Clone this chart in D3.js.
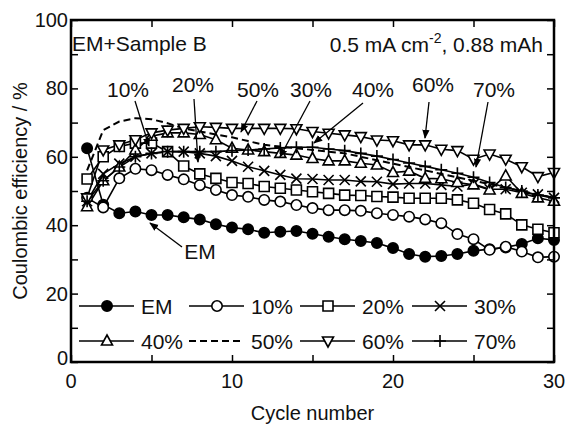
<!DOCTYPE html>
<html>
<head>
<meta charset="utf-8">
<script src="https://cdn.jsdelivr.net/npm/d3@7"></script>
<style>
  body { margin: 0; background: #fff; }
  svg text { font-family: "Liberation Sans", Arial, sans-serif; fill: #111; }
</style>
</head>
<body>
<div id="chart"></div>
<script>
var cycles = d3.range(1, 31);
var em   = [62.5, 46, 43.5, 44, 43, 43, 42.3, 41.7, 40.3, 39.3, 38.8, 37.8, 38.1, 38.3, 37.5, 36.6, 35.9, 35.4, 34.8, 33.3, 31.6, 30.8, 31, 31.6, 32.5, 33, 33.5, 34.5, 36.2, 35.7];
var p10  = [48, 45.2, 53.7, 56.5, 56.1, 54.7, 53.4, 51.7, 50.3, 48.8, 48.3, 47.4, 46.9, 45.9, 45.0, 44.4, 44.4, 44.2, 43.5, 43.0, 42.5, 41.7, 40.6, 37.4, 35.9, 32.8, 33.7, 32.3, 30.6, 30.8];
var p20  = [53.5, 60, 63, 64, 64, 61.5, 57.3, 55, 53.7, 52.5, 52.2, 51.3, 50.8, 50.3, 49.8, 49.3, 48.8, 48.7, 48.4, 48.2, 47.9, 47.9, 47.9, 47.4, 46.4, 44.6, 43.3, 40.1, 38.8, 37.8];
var p30  = [47, 55, 58, 60, 61, 61.5, 61.5, 61, 60.2, 58.8, 57.1, 55.9, 54.7, 53.6, 53.5, 53.2, 53.2, 52.8, 52.7, 52.0, 52.2, 52.2, 51.8, 51.3, 52.0, 50.5, 50.5, 49.5, 49, 48];
var p40  = [45.4, 53, 57, 62, 66, 67, 67, 66.5, 65, 62.5, 62, 61.5, 61, 60.5, 59.5, 58.8, 58.8, 58.1, 57.6, 55.4, 55.8, 53.7, 53.6, 52.5, 51.8, 50.3, 54.4, 49.3, 48, 47];
var p50  = [56, 67.8, 70.3, 71.3, 71, 69.8, 68.3, 67.4, 66.5, 65.7, 64.6, 63.5, 63, 62.5, 62, 61.5, 61, 60, 59, 58, 57, 56, 55, 54, 53, 52, 51, 50, 49, 48];
var p60  = [48, 62, 63.5, 65, 67, 67.8, 68.3, 68.8, 68.6, 68.3, 68.3, 68.3, 68.3, 68.2, 67.4, 66.9, 66.4, 65.9, 64.9, 64.7, 63.5, 63.5, 62.2, 61.8, 59.3, 60.8, 59.3, 57.1, 54.2, 55.4];
var p70  = [47, 53, 57, 60, 61, 61.5, 61.5, 61.5, 61.5, 61.8, 62, 62.3, 62.6, 62.8, 62.8, 62.3, 61.8, 61, 60.2, 59.2, 58.2, 57.2, 56.2, 55.2, 54, 52.5, 51, 50, 48.8, 48];

var seriesNames = ["EM", "10%", "20%", "30%", "40%", "50%", "60%", "70%"];
var seriesValues = [em, p10, p20, p30, p40, p50, p60, p70];
var seriesMarks = ["fcircle", "circle", "square", "x", "triangle", "none", "dtriangle", "plus"];

var xTicks = [0, 10, 20, 30];
var yTicks = [0, 20, 40, 60, 80, 100];

var W = 574, H = 431;
var pL = 71, pR = 554, pT = 20, pB = 362;

var svg = d3.select('#chart').append('svg').attr('width', W).attr('height', H);
svg.append('rect').attr('width', W).attr('height', H).attr('fill', '#fff');

var x = d3.scaleLinear().domain([0, 30]).range([pL, pR]);
var y = d3.scaleLinear().domain([0, 100]).range([pB, pT]);

// marker shapes
function markPath(type) {
    if (type == 'circle' || type == 'fcircle') return d3.symbol().type(d3.symbolCircle).size(85)();
    if (type == 'square') return 'M-5,-5H5V5H-5Z';
    if (type == 'triangle') return 'M0,-6L5.5,4L-5.5,4Z';
    if (type == 'dtriangle') return 'M0,6L5.5,-4L-5.5,-4Z';
    if (type == 'x') return 'M-5,-5L5,5M-5,5L5,-5';
    if (type == 'plus') return 'M-6,0H6M0,-6V6';
    return '';
}
function drawMark(g, type, cx, cy) {
    if (type == 'none') return;
    g.append('path').attr('d', markPath(type))
        .attr('transform', 'translate(' + cx + ',' + cy + ')')
        .attr('fill', type == 'fcircle' ? '#000' : (type == 'x' || type == 'plus') ? 'none' : '#fff')
        .attr('stroke', '#000').attr('stroke-width', 1.6);
}

var line = d3.line().x((d, i) => x(cycles[i])).y(d => y(d));
var plot = svg.append('g');

seriesValues.forEach((vals, i) => {
    var dashed = seriesMarks[i] == 'none';
    plot.append('path').datum(vals).attr('d', line)
        .attr('fill', 'none').attr('stroke', '#000')
        .attr('stroke-width', dashed ? 2 : 1.6)
        .attr('stroke-dasharray', dashed ? '7,4' : null);
});
seriesValues.forEach((vals, i) => {
    vals.forEach((v, j) => drawMark(plot, seriesMarks[i], x(cycles[j]), y(v)));
});

// axes: ticks inside on all four sides
var tl = 7;
var bAxis = svg.append('g').attr('transform', 'translate(0,' + pB + ')')
    .call(d3.axisBottom(x).tickValues(d3.range(0, 31, 5)).tickSize(-tl).tickFormat(''));
var tAxis = svg.append('g').attr('transform', 'translate(0,' + pT + ')')
    .call(d3.axisTop(x).tickValues(d3.range(0, 31, 5)).tickSize(-tl).tickFormat(''));
var lAxis = svg.append('g').attr('transform', 'translate(' + pL + ',0)')
    .call(d3.axisLeft(y).tickValues(d3.range(0, 101, 10)).tickSize(-tl).tickFormat(''));
var rAxis = svg.append('g').attr('transform', 'translate(' + pR + ',0)')
    .call(d3.axisRight(y).tickValues(d3.range(0, 101, 10)).tickSize(-tl).tickFormat(''));
[bAxis, tAxis, lAxis, rAxis].forEach(a => {
    a.select('.domain').remove();
    a.selectAll('line').attr('stroke', '#000').attr('stroke-width', 1.5);
});
svg.append('rect').attr('x', pL).attr('y', pT).attr('width', pR - pL).attr('height', pB - pT)
    .attr('fill', 'none').attr('stroke', '#000').attr('stroke-width', 2.5);

// tick labels
svg.selectAll('.xl').data(xTicks).enter().append('text')
    .attr('x', d => x(d)).attr('y', pB + 26).attr('text-anchor', 'middle')
    .attr('font-size', 20).text(d => d);
svg.selectAll('.yl').data(yTicks).enter().append('text')
    .attr('x', pL - 3).attr('y', d => y(d) + (d == 0 ? 3 : 7)).attr('text-anchor', 'end')
    .attr('font-size', 20).text(d => d);

// axis titles
svg.append('text').attr('x', (pL + pR) / 2).attr('y', 420).attr('text-anchor', 'middle')
    .attr('font-size', 20).text('Cycle number');
svg.append('text').attr('transform', 'translate(27,' + (pT + pB) / 2 + ') rotate(-90)')
    .attr('text-anchor', 'middle').attr('font-size', 20).text('Coulombic efficiency / %');

// header texts
svg.append('text').attr('x', pL + 1).attr('y', 51).attr('font-size', 21).text('EM+Sample B');
var cond = svg.append('text').attr('x', 543).attr('y', 52).attr('text-anchor', 'end').attr('font-size', 21);
cond.append('tspan').text('0.5 mA cm');
cond.append('tspan').attr('dy', -9).attr('font-size', 14).text('-2');
cond.append('tspan').attr('dy', 9).text(', 0.88 mAh');

// annotations with arrows
svg.append('defs').append('marker').attr('id', 'ah').attr('viewBox', '0 0 10 10')
    .attr('refX', 9).attr('refY', 5).attr('markerWidth', 7).attr('markerHeight', 7)
    .attr('orient', 'auto').append('path').attr('d', 'M0,1L10,5L0,9Z').attr('fill', '#000');
var notes = [
    { t: '10%', tx: 128, ty: 97, x1: 135, y1: 101, x2: 149, y2: 146 },
    { t: '20%', tx: 193, ty: 92, x1: 194, y1: 99, x2: 198, y2: 162 },
    { t: '50%', tx: 258, ty: 97, x1: 257, y1: 101, x2: 241, y2: 132 },
    { t: '30%', tx: 311, ty: 97, x1: 310, y1: 101, x2: 280, y2: 157 },
    { t: '40%', tx: 373, ty: 97, x1: 363, y1: 103, x2: 314, y2: 143 },
    { t: '60%', tx: 433, ty: 92, x1: 429, y1: 102, x2: 425, y2: 138 },
    { t: '70%', tx: 494, ty: 97, x1: 488, y1: 102, x2: 476, y2: 167 },
    { t: 'EM', tx: 200, ty: 259, x1: 182, y1: 247, x2: 150, y2: 223 }
];
notes.forEach(n => {
    svg.append('text').attr('x', n.tx).attr('y', n.ty).attr('text-anchor', 'middle')
        .attr('font-size', 21).text(n.t);
    svg.append('line').attr('x1', n.x1).attr('y1', n.y1).attr('x2', n.x2).attr('y2', n.y2)
        .attr('stroke', '#000').attr('stroke-width', 1.3).attr('marker-end', 'url(#ah)');
});

// legend, two rows of four
var legX = [79, 189, 300, 412];
var legY = [306, 341];
seriesNames.forEach((name, i) => {
    var lx = legX[i % 4], ly = legY[Math.floor(i / 4)];
    var dashed = seriesMarks[i] == 'none';
    var g = svg.append('g');
    g.append('line').attr('x1', lx).attr('x2', lx + 55).attr('y1', ly).attr('y2', ly)
        .attr('stroke', '#000').attr('stroke-width', dashed ? 2 : 1.6)
        .attr('stroke-dasharray', dashed ? '7,4' : null);
    drawMark(g, seriesMarks[i], lx + 28, ly);
    g.append('text').attr('x', lx + 62).attr('y', ly + 8).attr('font-size', 21).text(name);
});
</script>
</body>
</html>
